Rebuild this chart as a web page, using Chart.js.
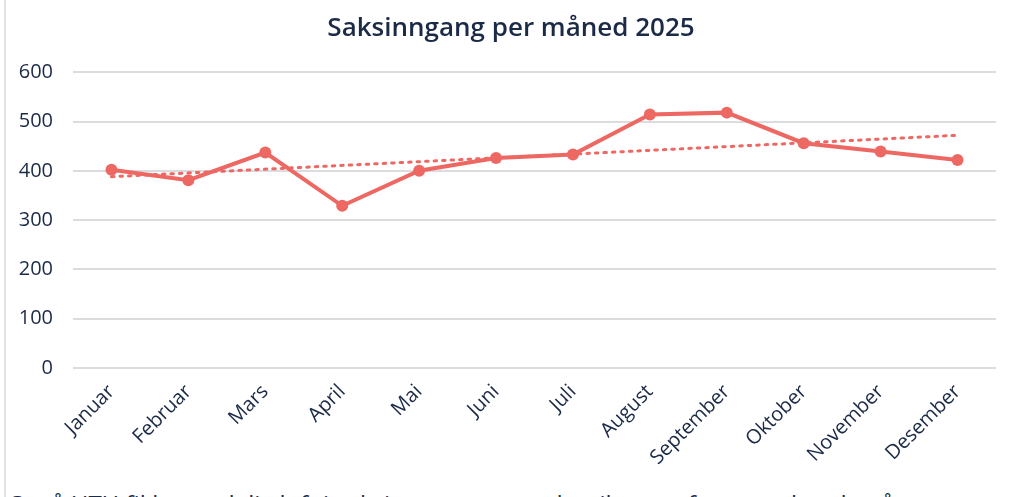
<!DOCTYPE html>
<html>
<head>
<meta charset="utf-8">
<script src="https://cdn.jsdelivr.net/npm/chart.js@4/dist/chart.umd.min.js"></script>
<style>
  html, body { margin: 0; padding: 0; background: #fff; overflow: hidden; }
  body { width: 1009px; height: 497px; position: relative; font-family: "Open Sans", sans-serif; }
  #edge { position: absolute; left: 4px; top: 0; width: 2px; height: 497px; background: #e2e2e4; }
  #wrap { position: absolute; left: 6px; top: 0; width: 1003px; height: 484px; }
  #after { position: absolute; left: 8px; top: 487px; font-size: 24px; color: #1b2a47; white-space: nowrap; }
</style>
</head>
<body>
<div id="edge"></div>
<div id="wrap"><canvas id="c"></canvas></div>
<div id="after">Også HTH fikk et tydelig løft i saksinngangen, og det tilsvarer fortsatt økende pågang</div>
<script>
// saksinngang per måned
const months = ['Januar', 'Februar', 'Mars', 'April', 'Mai', 'Juni', 'Juli', 'August', 'September', 'Oktober', 'November', 'Desember'];
const cases = [402, 381, 437, 329, 400, 426, 433, 514, 518, 456, 439, 422];
// dotted trend line: only its two ends
const trend = [388, null, null, null, null, null, null, null, null, null, null, 472];
const yTicks = [0, 100, 200, 300, 400, 500, 600];

const ink = '#1b2a47', red = '#ee6863';

// nudge the title a bit right, the source centres it slightly off the canvas middle
const titleNudge = { id: 'titleNudge', afterLayout(ch) {
  const t = ch.titleBlock; if (t) { t.left += 7; t.right += 7; } } };

new Chart(document.getElementById('c'), {
  type: 'line',
  data: {
    labels: months,
    datasets: [
      { data: cases, borderColor: red, backgroundColor: red, borderWidth: 4,
        pointRadius: 6, pointHoverRadius: 6, pointBorderWidth: 0, tension: 0, order: 0 },
      { data: trend, borderColor: red, borderWidth: 3, borderDash: [2.5, 6], borderCapStyle: 'round',
        pointRadius: 0, spanGaps: true, tension: 0, order: 1 }
    ]
  },
  options: {
    responsive: true, maintainAspectRatio: false, animation: false,
    layout: { padding: { left: 6, right: 13, top: 0, bottom: 0 } },
    plugins: {
      legend: { display: false }, tooltip: { enabled: false },
      title: { display: true, text: 'Saksinngang per måned 2025', color: ink,
        font: { family: 'Open Sans', size: 26, weight: '600' }, padding: { top: 13, bottom: 28 } }
    },
    scales: {
      x: { offset: true, grid: { display: false }, border: { display: false },
        afterFit: s => { s.paddingLeft = 0; s.paddingRight = 0; s.height = 116; },
        ticks: { color: ink, font: { family: 'Open Sans', size: 20 }, minRotation: 45, maxRotation: 45, padding: 4 } },
      y: { min: 0, max: 600, border: { display: false },
        grid: { color: '#dcdcdf', lineWidth: 2, drawTicks: false },
        afterFit: s => { s.width = 61; },
        afterBuildTicks: ax => { ax.ticks = yTicks.map(v => ({ value: v })); },
        ticks: { color: ink, font: { family: 'Open Sans', size: 20 }, padding: 20 } }
    }
  },
  plugins: [titleNudge]
});
</script>
</body>
</html>
